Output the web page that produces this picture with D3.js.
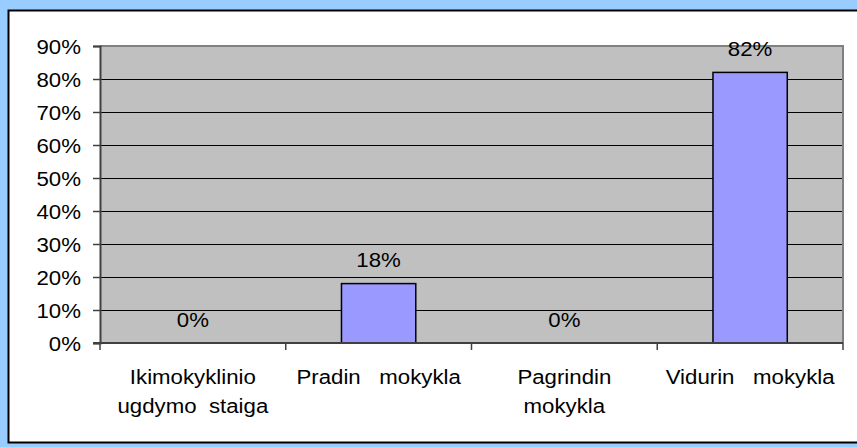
<!DOCTYPE html>
<html>
<head>
<meta charset="utf-8">
<script src="https://cdn.jsdelivr.net/npm/d3@7"></script>
<style>
  html, body { margin: 0; padding: 0; background: #99CCFF; }
  svg { display: block; }
  text { font-family: "Liberation Sans", Arial, sans-serif; fill: #000; white-space: pre; }
</style>
</head>
<body>
<svg id="chart" width="857" height="447"></svg>
<script>
// data
const categories = ["Ikimokyklinio ugdymo", "Pradin mokykla", "Pagrindin mokykla", "Vidurin mokykla"];
const catLabels = [
  ["Ikimokyklinio", "ugdymo  staiga"],
  ["Pradin   mokykla"],
  ["Pagrindin", "mokykla"],
  ["Vidurin   mokykla"]
];
const values = [0, 0.18, 0, 0.82];
const yTicks = [0, 0.1, 0.2, 0.3, 0.4, 0.5, 0.6, 0.7, 0.8, 0.9];

const width = 857;
const height = 447;
const plot = { left: 100, right: 843, top: 46, bottom: 343 };
const fontSize = 21;
const sx = 1.06; // labels look a bit stretched sideways

const svg = d3.select("#chart");

// outer frame
svg.append("rect")
  .attr("width", width).attr("height", height)
  .attr("fill", "#99CCFF");
svg.append("rect")
  .attr("x", 8.5).attr("y", 10.5)
  .attr("width", 860).attr("height", 432)
  .attr("fill", "#fff")
  .attr("stroke", "#000")
  .attr("stroke-width", 2);

const x = d3.scaleBand()
  .domain(categories)
  .range([plot.left, plot.right])
  .paddingInner(0.6)
  .paddingOuter(0.3);

const y = d3.scaleLinear()
  .domain([0, 0.9])
  .range([plot.bottom, plot.top]);

const fmt = d3.format(".0%");

function label(g, tx, ty, str, anchor) {
  return g.append("text")
    .attr("transform", `translate(${tx},${ty}) scale(${sx},1)`)
    .attr("text-anchor", anchor || "middle")
    .attr("font-size", fontSize)
    .text(str);
}

// plot area
svg.append("rect")
  .attr("x", plot.left).attr("y", plot.top)
  .attr("width", plot.right - plot.left)
  .attr("height", plot.bottom - plot.top)
  .attr("fill", "#C0C0C0");

// gridlines
svg.append("g")
  .selectAll("line")
  .data(yTicks.filter(d => d > 0 && d < 0.9))
  .join("line")
  .attr("x1", plot.left).attr("x2", plot.right)
  .attr("y1", d => Math.round(y(d)) + 0.5)
  .attr("y2", d => Math.round(y(d)) + 0.5)
  .attr("stroke", "#000")
  .attr("stroke-width", 1);

// plot border top / right
svg.append("path")
  .attr("d", `M${plot.left},${plot.top} H${plot.right} V${plot.bottom}`)
  .attr("fill", "none")
  .attr("stroke", "#808080")
  .attr("stroke-width", 2);

// bars
svg.append("g")
  .selectAll("rect")
  .data(values.map((v, i) => ({ c: categories[i], v })).filter(d => d.v > 0))
  .join("rect")
  .attr("x", d => x(d.c))
  .attr("y", d => y(d.v))
  .attr("width", x.bandwidth())
  .attr("height", d => plot.bottom - y(d.v))
  .attr("fill", "#9999FF")
  .attr("stroke", "#000")
  .attr("stroke-width", 1.5);

// value labels
const vl = svg.append("g");
values.forEach((v, i) => {
  label(vl, x(categories[i]) + x.bandwidth() / 2, y(v) - 16.5, fmt(v));
});

// y axis
const yAxis = svg.append("g")
  .attr("transform", `translate(${plot.left},0)`)
  .call(d3.axisLeft(y).tickValues(yTicks).tickSize(7).tickFormat(""));
yAxis.select(".domain").attr("stroke", "#404040").attr("stroke-width", 2);
yAxis.selectAll(".tick line").attr("stroke", "#404040").attr("stroke-width", 1.5);
const yl = svg.append("g");
yTicks.forEach(t => {
  label(yl, 81, y(t) + 7.5, fmt(t), "end");
});

// x axis with ticks at category boundaries
const bounds = d3.range(categories.length + 1).map(i => plot.left + i * x.step());
svg.append("line")
  .attr("x1", plot.left - 7).attr("x2", plot.right)
  .attr("y1", plot.bottom).attr("y2", plot.bottom)
  .attr("stroke", "#404040").attr("stroke-width", 2);
svg.append("g")
  .selectAll("line")
  .data(bounds)
  .join("line")
  .attr("x1", d => d).attr("x2", d => d)
  .attr("y1", plot.bottom).attr("y2", plot.bottom + 7)
  .attr("stroke", "#404040").attr("stroke-width", 1.5);

// category labels
const xl = svg.append("g");
catLabels.forEach((lines, i) => {
  const cx = x(categories[i]) + x.bandwidth() / 2;
  lines.forEach((s, j) => {
    label(xl, cx, 384 + j * 28.5, s);
  });
});
</script>
</body>
</html>
